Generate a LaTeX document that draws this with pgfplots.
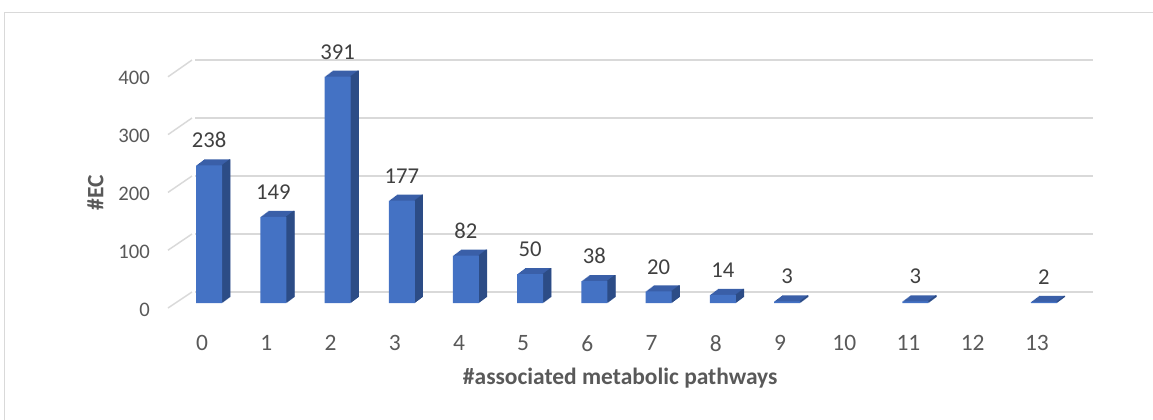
\documentclass[border=0pt]{standalone}
\usepackage{pgfplots}
\pgfplotsset{compat=1.18}
\usepackage{pgfplotstable}
\usepackage{fontspec}
\setmainfont{Carlito}
\definecolor{barfront}{HTML}{4472C4}
\definecolor{bartop}{HTML}{3A5FA8}
\definecolor{barside}{HTML}{2C4C86}
\definecolor{gridc}{HTML}{D9D9D9}
\definecolor{tickc}{HTML}{595959}
\definecolor{labc}{HTML}{404040}
\pgfplotstableread{
x y
0 238
1 149
2 391
3 177
4 82
5 50
6 38
7 20
8 14
9 3
11 3
13 2
}\datatable
\newcommand{\yfont}{\fontsize{15.5pt}{18pt}\selectfont}
\newcommand{\xfont}{\fontsize{17.6pt}{20pt}\selectfont}
\newcommand{\dfont}{\fontsize{17pt}{20pt}\selectfont}
\begin{document}
\begin{tikzpicture}
\useasboundingbox (0,0) rectangle (864.75pt,-314.25pt);
\draw[gridc, line width=0.75pt] (3pt,-330pt) -- (3pt,-9pt) -- (880pt,-9pt);
% back wall with gridlines
\begin{axis}[at={(146.25pt,-219pt)}, anchor=south west, scale only axis,
  width=673.5pt, height=174pt, xmin=-0.5, xmax=13.5, ymin=0, ymax=400,
  ytick={0,100,...,400}, xtick=\empty, yticklabels={}, ymajorgrids,
  grid style={gridc, line width=1.1pt}, axis line style={draw=none},
  major tick length=0pt]
\addplot[draw=none] coordinates {(0,0)};
\end{axis}
\foreach \k in {0,...,4} \draw[gridc, line width=1.1pt] ({126pt},{-(308-57.8*\k)*0.75pt}) -- ({144pt},{-(292-58*\k)*0.75pt});
% bars
\begin{axis}[at={(132.75pt,-227.25pt)}, anchor=south west, scale only axis,
  width=674.25pt, height=173.625pt, xmin=-0.5, xmax=13.5, ymin=0, ymax=400,
  clip=false, axis line style={draw=none}, major tick length=0pt,
  xtick={0,...,13}, xticklabels={0,1,2,3,4,5,6,7,8,9,10,11,12,13},
  ytick={0,100,...,400},
  /pgf/number format/assume math mode=true,
  ticklabel style={text=tickc},
  yticklabel style={font=\yfont, anchor=east, inner sep=0pt, xshift=-20.25pt, yshift=-4.9pt},
  xticklabel style={font=\xfont, anchor=north, inner sep=0pt, xshift=-5.25pt, yshift=-24pt},
  xlabel={\textbf{\#associated metabolic pathways}},
  ylabel={\textbf{\#EC}},
  every axis x label/.style={at={(axis description cs:0.493,-0.324)}, anchor=center, font=\xfont, text=tickc},
  every axis y label/.style={at={(axis description cs:-0.0907,0.477)}, anchor=center, rotate=90, font=\xfont, text=tickc},
]
\pgfplotsinvokeforeach{1,...,8}{
\addplot[ybar, bar width=19.5pt, bar shift=0pt, fill=bartop, draw=none, xshift=#1*0.75pt, yshift=#1*0.5625pt] table[x=x,y=y] {\datatable};
}
\pgfplotsinvokeforeach{1,...,8}{
\addplot[ybar, bar width=1.1pt, bar shift=9.375pt, fill=barside, draw=none, xshift=#1*0.75pt, yshift=#1*0.5625pt] table[x=x,y=y] {\datatable};
}
\addplot[ybar, bar width=19.5pt, bar shift=0pt, fill=barfront, draw=none,
  nodes near coords,
  every node near coord/.append style={anchor=south, inner sep=0pt, yshift=12.75pt, font=\dfont, text=labc}]
  table[x=x,y=y] {\datatable};
\end{axis}
\end{tikzpicture}
\end{document}
